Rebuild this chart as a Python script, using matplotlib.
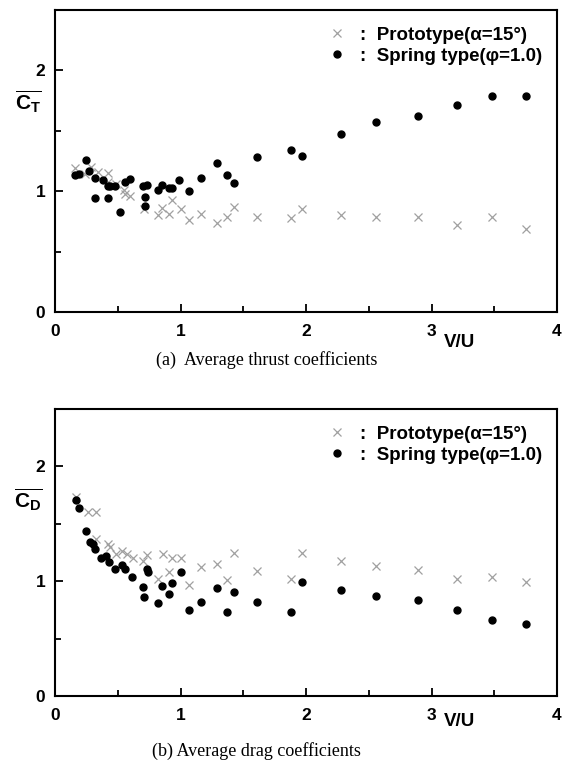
import matplotlib
matplotlib.use('Agg')
import matplotlib.pyplot as plt
from matplotlib.lines import Line2D
from matplotlib.ticker import MultipleLocator

plt.rcParams['font.family'] = ['Liberation Sans', 'DejaVu Sans']
plt.rcParams['mathtext.fontset'] = 'custom'
plt.rcParams['mathtext.bf'] = 'Liberation Sans:bold'
plt.rcParams['mathtext.rm'] = 'Liberation Sans'
plt.rcParams['mathtext.it'] = 'Liberation Sans:italic'

# ---- data: (a) thrust ----
thrust_proto_x = [0.16, 0.24, 0.29, 0.34, 0.42, 0.42, 0.49, 0.55, 0.56, 0.60, 0.71, 0.82, 0.85,
                  0.91, 0.93, 1.00, 1.07, 1.16, 1.29, 1.37, 1.43, 1.61, 1.88, 1.97, 2.28,
                  2.56, 2.89, 3.20, 3.48, 3.75]
thrust_proto_y = [1.19, 1.14, 1.20, 1.16, 1.15, 1.08, 1.06, 1.01, 0.98, 0.96, 0.85, 0.80, 0.86,
                  0.81, 0.93, 0.85, 0.76, 0.81, 0.74, 0.79, 0.87, 0.79, 0.78, 0.85, 0.80,
                  0.79, 0.79, 0.72, 0.79, 0.69]
thrust_spring_x = [0.16, 0.19, 0.25, 0.27, 0.32, 0.32, 0.38, 0.42, 0.42, 0.44, 0.48, 0.52, 0.56,
                   0.60, 0.70, 0.72, 0.73, 0.72, 0.82, 0.85, 0.91, 0.93, 0.99, 1.07, 1.16,
                   1.29, 1.37, 1.43, 1.61, 1.88, 1.97, 2.28, 2.56, 2.89, 3.20, 3.48, 3.75]
thrust_spring_y = [1.13, 1.14, 1.26, 1.17, 1.11, 0.94, 1.09, 1.04, 0.94, 1.04, 1.04, 0.83, 1.08,
                   1.10, 1.04, 0.95, 1.05, 0.88, 1.01, 1.05, 1.03, 1.03, 1.09, 1.00, 1.11,
                   1.23, 1.13, 1.07, 1.28, 1.34, 1.29, 1.47, 1.57, 1.62, 1.71, 1.79, 1.79]

# ---- data: (b) drag ----
drag_proto_x = [0.17, 0.26, 0.33, 0.33, 0.42, 0.44, 0.49, 0.53, 0.57, 0.62, 0.70, 0.73, 0.82,
                0.86, 0.91, 0.93, 1.00, 1.07, 1.16, 1.29, 1.37, 1.43, 1.61, 1.88, 1.97,
                2.28, 2.56, 2.89, 3.20, 3.48, 3.75]
drag_proto_y = [1.73, 1.60, 1.60, 1.37, 1.32, 1.30, 1.24, 1.26, 1.24, 1.20, 1.18, 1.23, 1.02,
                1.24, 1.08, 1.20, 1.20, 0.97, 1.12, 1.15, 1.01, 1.25, 1.09, 1.02, 1.25,
                1.18, 1.13, 1.10, 1.02, 1.04, 0.99]
drag_spring_x = [0.17, 0.19, 0.25, 0.28, 0.30, 0.32, 0.37, 0.41, 0.43, 0.48, 0.53, 0.56, 0.61,
                 0.70, 0.71, 0.73, 0.74, 0.82, 0.85, 0.91, 0.93, 1.00, 1.07, 1.16, 1.29,
                 1.37, 1.43, 1.61, 1.88, 1.97, 2.28, 2.56, 2.89, 3.20, 3.48, 3.75]
drag_spring_y = [1.71, 1.64, 1.44, 1.34, 1.32, 1.28, 1.20, 1.22, 1.17, 1.11, 1.14, 1.11, 1.04,
                 0.95, 0.86, 1.11, 1.08, 0.81, 0.96, 0.89, 0.98, 1.08, 0.75, 0.82, 0.94,
                 0.73, 0.91, 0.82, 0.73, 0.99, 0.92, 0.87, 0.84, 0.75, 0.66, 0.63]

labels = [':  Prototype(\u03b1=15\u00b0)', ':  Spring type(\u03c6=1.0)']
x_ticks = [0, 1, 2, 3, 4]
y_ticks = [0, 1, 2]

W, H = 565, 767
fig = plt.figure(figsize=(W / 100, H / 100), dpi=100)

def px_axes(left, top, right, bottom):
    return fig.add_axes([left / W, 1 - bottom / H, (right - left) / W, (bottom - top) / H])

ax1 = px_axes(55, 10, 557, 312)
ax2 = px_axes(55, 409, 557, 696)

cross_kw = dict(marker='x', linestyle='none', color='#a0a0a0', markersize=5.5, markeredgewidth=0.9)
dot_kw = dict(marker='o', linestyle='none', color='black', markersize=5.0)

def style(ax):
    ax.set_xlim(0, 4)
    ax.set_ylim(0, 2.5)
    ax.set_xticks(x_ticks)
    ax.set_yticks(y_ticks)
    ax.xaxis.set_minor_locator(MultipleLocator(0.5))
    ax.yaxis.set_minor_locator(MultipleLocator(0.5))
    ax.tick_params(which='both', direction='in', top=False, right=False, width=1.3)
    ax.tick_params(which='major', length=6, labelsize=12.5)
    ax.tick_params(which='minor', length=4)
    ax.tick_params(axis='x', pad=9)
    ax.tick_params(axis='y', pad=7)
    for lab in ax.get_xticklabels() + ax.get_yticklabels():
        lab.set_fontweight('bold')
    for s in ax.spines.values():
        s.set_linewidth(1.5)

for ax, px, py, sx, sy in [(ax1, thrust_proto_x, thrust_proto_y, thrust_spring_x, thrust_spring_y),
                           (ax2, drag_proto_x, drag_proto_y, drag_spring_x, drag_spring_y)]:
    ax.plot(px, py, **cross_kw)
    ax.plot(sx, sy, **dot_kw)
    style(ax)
    handles = [Line2D([], [], **cross_kw), Line2D([], [], **dot_kw)]
    ax.legend(handles, labels, loc='upper right', bbox_to_anchor=(1.004, 1.0), frameon=False,
              handlelength=1.0, handletextpad=0.75, labelspacing=0.2,
              prop={'family': 'Liberation Sans', 'weight': 'bold', 'size': 13.5})

# y labels (C with overline)
fig.text(28 / W, 1 - 102 / H, r'$\overline{\mathbf{C}_{\mathbf{T}}}$', fontsize=15,
         ha='center', va='center')
fig.text(28 / W, 1 - 500 / H, r'$\overline{\mathbf{C}_{\mathbf{D}}}$', fontsize=15,
         ha='center', va='center')

# x labels
fig.text(460 / W, 1 - 342 / H, 'V/U', fontsize=13.5, fontweight='bold', ha='center', va='center')
fig.text(460 / W, 1 - 721 / H, 'V/U', fontsize=13.5, fontweight='bold', ha='center', va='center')

# captions
fig.text(267 / W, 1 - 360 / H, '(a)  Average thrust coefficients', fontsize=13,
         family='Liberation Serif', ha='center', va='center')
fig.text(256 / W, 1 - 751 / H, '(b) Average drag coefficients', fontsize=13,
         family='Liberation Serif', ha='center', va='center')

fig.savefig('out.png', dpi=100)
